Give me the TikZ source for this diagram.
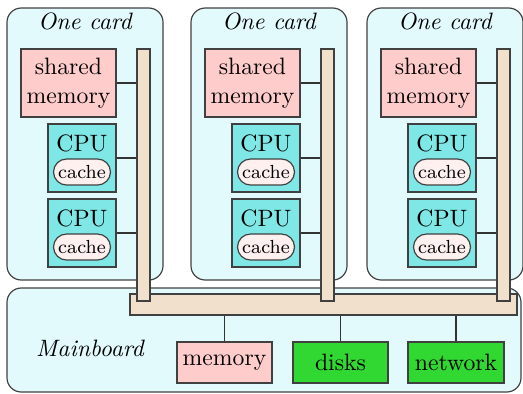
\documentclass[tikz,border=0pt]{standalone}
\usetikzlibrary{shapes.misc}
\definecolor{cardfill}{RGB}{226,250,252}
\definecolor{cpufill}{RGB}{127,232,230}
\definecolor{memfill}{RGB}{255,204,204}
\definecolor{cachefill}{RGB}{255,240,240}
\definecolor{busfill}{RGB}{241,224,204}
\definecolor{devfill}{RGB}{50,216,50}
\def\pxu{0.422pt}
\tikzset{
  sz/.style 2 args={minimum width=#1*\pxu, minimum height=#2*\pxu},
  frame/.style={draw=black!75, line width=0.5pt, inner sep=0pt},
  cardbox/.style={frame, fill=cardfill, rounded corners=6pt},
  membox/.style={frame, fill=memfill, align=center},
  cpubox/.style={frame, fill=cpufill},
  cachebox/.style={frame, fill=cachefill, rounded rectangle, font=\footnotesize},
  busbar/.style={frame, fill=busfill},
  devbox/.style={frame, fill=devfill},
  wire/.style={draw=black!80, line width=0.5pt},
  title/.style={font=\itshape},
}
\begin{document}
\begin{tikzpicture}[x=0.422pt, y=-0.422pt]
\useasboundingbox (0,0) rectangle (523,393);

% the three processor cards
\foreach \ox/\k in {0/1, 184/2, 360/3} {
  \node[cardbox, sz={156}{272}] (card\k) at (85+\ox,144) {};
  \node[title] (cardtitle\k) at (85+\ox,21) {One card};
  \node[membox, sz={95}{68}] (smem\k) at (68.5+\ox,83) {shared\\memory};
  \node[cpubox, sz={68}{68}] (cpua\k) at (82+\ox,158) {};
  \node (cpualbl\k) at (82+\ox,143) {CPU};
  \node[cachebox, sz={57}{26}] (cachea\k) at (82+\ox,172) {cache};
  \node[cpubox, sz={68}{68}] (cpub\k) at (82+\ox,233) {};
  \node (cpublbl\k) at (82+\ox,218) {CPU};
  \node[cachebox, sz={57}{26}] (cacheb\k) at (82+\ox,247) {cache};
}

% the mainboard
\node[cardbox, sz={514}{104}] (mainboard) at (264,340) {};
\node[title] (mainlbl) at (90,348) {Mainboard};
\node[busbar, sz={387}{21}] (hbus) at (323.5,304.5) {};

% vertical card buses, drawn over the main bus
\foreach \ox/\k in {0/1, 184/2, 360/3} {
  \node[busbar, sz={13}{252}] (vbus\k) at (143.5+\ox,175) {};
  \draw[wire] (smem\k.east) -- (smem\k.east -| vbus\k.west);
  \draw[wire] (cpua\k.east) -- (cpua\k.east -| vbus\k.west);
  \draw[wire] (cpub\k.east) -- (cpub\k.east -| vbus\k.west);
}

% devices on the mainboard
\node[membox, sz={95}{41}] (memory) at (224.5,362.5) {memory};
\node[devbox, sz={95}{41}] (disks) at (340.5,362.5) {disks};
\node[devbox, sz={96}{41}] (network) at (456,362.5) {network};
\foreach \d in {memory, disks, network}
  \draw[wire] (\d.north) -- (\d.north |- hbus.south);
\end{tikzpicture}
\end{document}
